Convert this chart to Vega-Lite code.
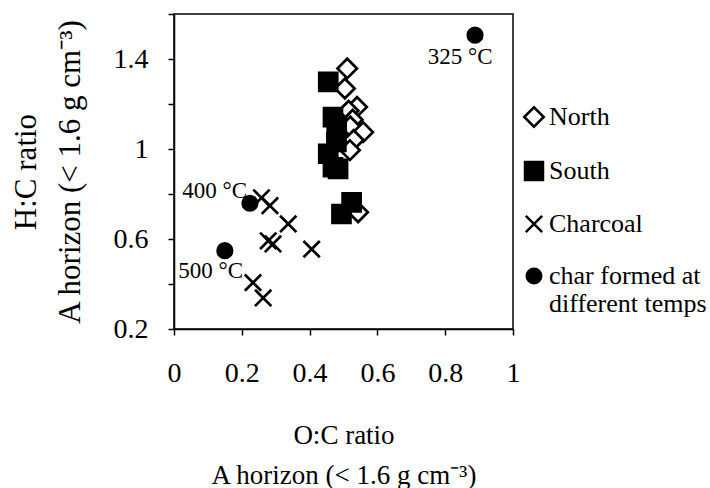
{
  "$schema": "https://vega.github.io/schema/vega-lite/v6.json",
  "width": 339,
  "height": 315,
  "autosize": {"type": "none"},
  "padding": {"left": 174, "top": 14, "right": 197, "bottom": 159},
  "background": "white",
  "config": {
    "font": "Liberation Serif",
    "view": {"stroke": "black", "strokeWidth": 1.5},
    "axis": {
      "grid": false,
      "domainColor": "black",
      "domainWidth": 1.5,
      "tickColor": "black",
      "tickWidth": 1.5,
      "tickSize": 6,
      "labelColor": "black",
      "labelFont": "Liberation Serif",
      "labelFontSize": 28,
      "titleFont": "Liberation Serif",
      "titleFontWeight": "normal",
      "titleColor": "black"
    },
    "legend": {
      "labelFont": "Liberation Serif",
      "labelFontSize": 26,
      "labelColor": "black"
    }
  },
  "layer": [
    {
      "data": {
        "values": [
          {"group": "North", "x": 0.511, "y": 1.358},
          {"group": "North", "x": 0.504, "y": 1.269},
          {"group": "North", "x": 0.540, "y": 1.187},
          {"group": "North", "x": 0.515, "y": 1.170},
          {"group": "North", "x": 0.527, "y": 1.130},
          {"group": "North", "x": 0.520, "y": 1.100},
          {"group": "North", "x": 0.558, "y": 1.075},
          {"group": "North", "x": 0.530, "y": 1.040},
          {"group": "North", "x": 0.519, "y": 0.995},
          {"group": "North", "x": 0.543, "y": 0.719},
          {"group": "South", "x": 0.455, "y": 1.298},
          {"group": "South", "x": 0.469, "y": 1.142},
          {"group": "South", "x": 0.480, "y": 1.100},
          {"group": "South", "x": 0.479, "y": 1.031},
          {"group": "South", "x": 0.455, "y": 0.979},
          {"group": "South", "x": 0.469, "y": 0.919},
          {"group": "South", "x": 0.484, "y": 0.912},
          {"group": "South", "x": 0.524, "y": 0.763},
          {"group": "South", "x": 0.494, "y": 0.711},
          {"group": "Charcoal", "x": 0.258, "y": 0.783},
          {"group": "Charcoal", "x": 0.283, "y": 0.748},
          {"group": "Charcoal", "x": 0.337, "y": 0.667},
          {"group": "Charcoal", "x": 0.406, "y": 0.555},
          {"group": "Charcoal", "x": 0.278, "y": 0.592},
          {"group": "Charcoal", "x": 0.292, "y": 0.578},
          {"group": "Charcoal", "x": 0.233, "y": 0.406},
          {"group": "Charcoal", "x": 0.263, "y": 0.338},
          {"group": "char", "x": 0.150, "y": 0.548},
          {"group": "char", "x": 0.224, "y": 0.759},
          {"group": "char", "x": 0.888, "y": 1.506}
        ]
      },
      "mark": {"type": "point", "opacity": 1, "strokeWidth": 2.7, "stroke": "black"},
      "encoding": {
        "x": {
          "field": "x",
          "type": "quantitative",
          "scale": {"domain": [0, 1], "nice": false, "zero": false},
          "axis": {
            "values": [0, 0.1, 0.2, 0.3, 0.4, 0.5, 0.6, 0.7, 0.8, 0.9, 1],
            "format": ".1~f",
            "labelExpr": "round(datum.value * 10) % 2 == 0 ? datum.label : ''",
            "labelPadding": 24,
            "labelFlush": false,
            "labelOverlap": false,
            "title": ["O:C ratio", "A horizon (< 1.6 g cm⁻³)"],
            "titleFontSize": 27,
            "titleLineHeight": 40,
            "titlePadding": 35
          }
        },
        "y": {
          "field": "y",
          "type": "quantitative",
          "scale": {"domain": [0.2, 1.6], "nice": false, "zero": false},
          "axis": {
            "values": [0.2, 0.4, 0.6, 0.8, 1, 1.2, 1.4, 1.6],
            "format": ".1~f",
            "labelExpr": "round(datum.value * 5) % 2 == 1 ? datum.label : ''",
            "labelPadding": 20,
            "labelFlush": false,
            "labelOverlap": false,
            "title": ["H:C ratio", "A horizon (< 1.6 g cm⁻³)"],
            "titleFontSize": 31,
            "titleLineHeight": 44,
            "titlePadding": 27
          }
        },
        "shape": {
          "field": "group",
          "type": "nominal",
          "scale": {
            "domain": ["North", "South", "Charcoal", "char"],
            "range": ["diamond", "square", "M-1,-1L1,1M-1,1L1,-1", "circle"]
          },
          "legend": {
            "title": null,
            "orient": "none",
            "legendX": 347,
            "legendY": 90,
            "labelExpr": "datum.label == 'char' ? ['char formed at', 'different temps'] : datum.label",
            "labelOffset": 2,
            "rowPadding": 25,
            "symbolStrokeWidth": 2.5,
            "symbolStrokeColor": "black",
            "labelLimit": 300
          }
        },
        "fill": {
          "field": "group",
          "type": "nominal",
          "scale": {
            "domain": ["North", "South", "Charcoal", "char"],
            "range": ["white", "black", "transparent", "black"]
          }
        },
        "size": {
          "field": "group",
          "type": "nominal",
          "scale": {
            "domain": ["North", "South", "Charcoal", "char"],
            "range": [380, 210, 340, 100]
          }
        }
      }
    },
    {
      "data": {
        "values": [
          {"label": "325 °C", "x": 0.844, "y": 1.408},
          {"label": "400 °C", "x": 0.120, "y": 0.815},
          {"label": "500 °C", "x": 0.108, "y": 0.459}
        ]
      },
      "mark": {"type": "text", "font": "Liberation Serif", "fontSize": 23, "color": "black", "align": "center", "baseline": "middle"},
      "encoding": {
        "x": {"field": "x", "type": "quantitative"},
        "y": {"field": "y", "type": "quantitative"},
        "text": {"field": "label", "type": "nominal"}
      }
    }
  ]
}
